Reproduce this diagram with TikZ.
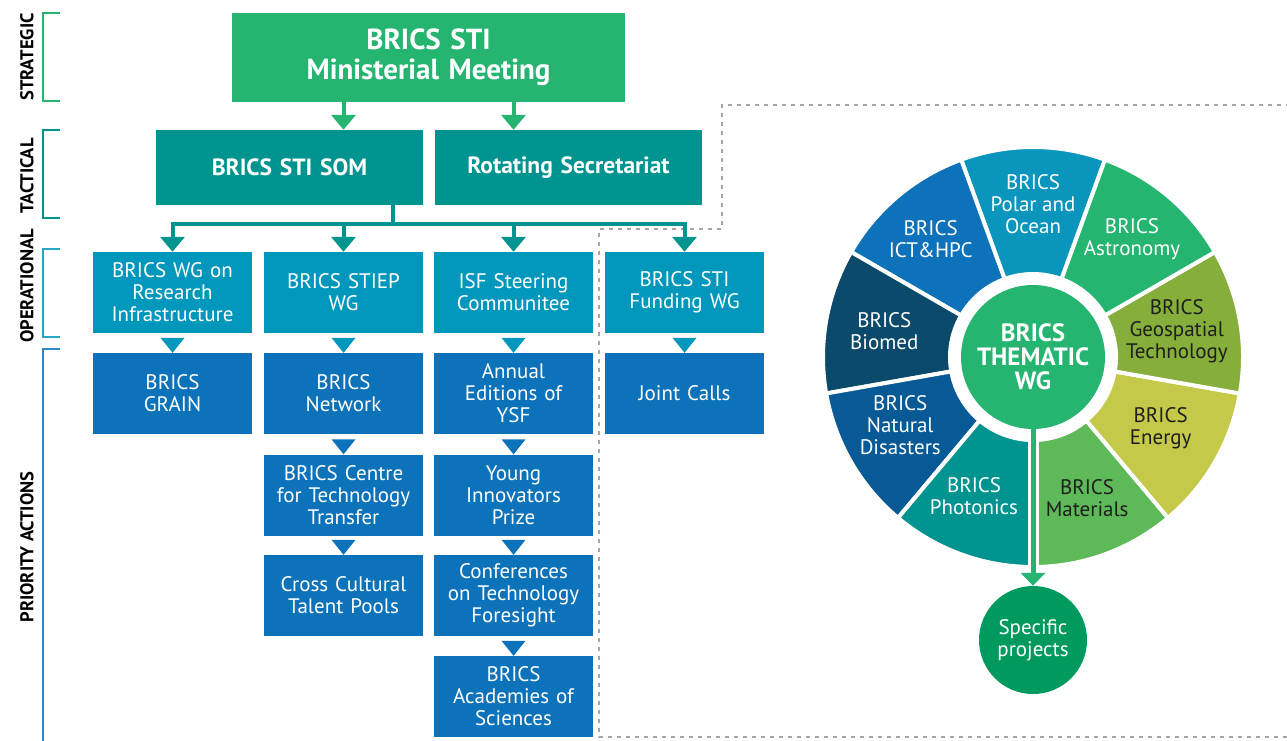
\documentclass[tikz,border=0pt]{standalone}
\usepackage[RGB]{xcolor}
\usepackage{fontspec}
\setmainfont{PT Sans}
\usetikzlibrary{arrows.meta}
\definecolor{topgreen}{RGB}{37,181,112}
\definecolor{tacteal}{RGB}{0,148,144}
\definecolor{opblue}{RGB}{0,151,189}
\definecolor{prblue}{RGB}{12,115,186}
\definecolor{matgreen}{RGB}{94,185,88}
\definecolor{energy}{RGB}{196,201,74}
\definecolor{geo}{RGB}{134,174,58}
\definecolor{polar}{RGB}{10,149,188}
\definecolor{ict}{RGB}{14,114,186}
\definecolor{biomed}{RGB}{11,74,107}
\definecolor{natural}{RGB}{8,90,150}
\definecolor{spgreen}{RGB}{0,154,94}
\definecolor{dotgray}{RGB}{165,165,165}
\definecolor{darktext}{RGB}{30,30,30}
\tikzset{
  box/.style={rectangle, inner sep=0pt, minimum width=159pt, minimum height=81pt,
    text width=157pt, align=center, text=white, font=\fontsize{21}{22}\selectfont},
  opbox/.style={box, fill=opblue},
  prbox/.style={box, fill=prblue},
  tacbox/.style={box, fill=tacteal, minimum width=267pt, minimum height=75pt,
    text width=260pt, font=\bfseries\fontsize{23.5}{26}\selectfont},
  level/.style={rotate=90, font=\bfseries\fontsize{18.5}{18.5}\selectfont},
  seglbl/.style={align=center, text=white, font=\fontsize{21}{22}\selectfont},
  tealline/.style={draw=tacteal, line width=4pt},
  tealarrow/.style={tealline, -{Triangle[width=24pt,length=15pt]}},
  greenarrow/.style={draw=topgreen, line width=4pt, -{Triangle[width=24pt,length=15pt]}}
}
\newcommand{\pointer}[2]{\fill[#2] (#1.north) -- ++(-12,-15) -- ++(24,0) -- cycle;}
\newcommand{\levelbracket}[3]{\draw[#3, line width=2pt] (60,#1) -- (43,#1) -- (43,#2) -- (60,#2);}
\begin{document}
\begin{tikzpicture}[x=1pt, y=-1pt]
\useasboundingbox (0,0) rectangle (1287,740);
% levels
\levelbracket{13}{101}{topgreen}
\levelbracket{130}{218}{tacteal}
\levelbracket{249}{337}{opblue!85}
\draw[prblue!85, line width=2pt] (60,349) -- (43,349) -- (43,742);
\node[level] (strategic) at (27,57) {STRATEGIC};
\node[level] (tactical) at (27,176) {TACTICAL};
\node[level] (operational) at (27,286) {OPERATIONAL};
\node[level] (priority) at (27,547) {PRIORITY ACTIONS};
% dotted frame
\draw[dotgray, line width=2pt, dash pattern=on 4pt off 5pt]
  (1290,105) -- (722,105) -- (722,229) -- (599,229) -- (599,737) -- (1290,737);
% strategic and tactical
\node[box, fill=topgreen, minimum width=393pt, minimum height=89pt, text width=385pt,
  font=\bfseries\fontsize{29}{30}\selectfont] (mm) at (428.5,57.5) {BRICS STI\\Ministerial Meeting};
\node[tacbox] (som) at (289.5,167.5) {BRICS STI SOM};
\node[tacbox] (rot) at (568.5,167.5) {Rotating Secretariat};
% operational
\node[opbox] (wgri) at (172.5,292.5) {BRICS WG on\\Research\\Infrastructure};
\node[opbox] (stiep) at (343.5,292.5) {BRICS STIEP\\WG};
\node[opbox] (isf) at (513.5,292.5) {ISF Steering\\Communitee};
\node[opbox] (funding) at (684.5,292.5) {BRICS STI\\Funding WG};
% priority actions
\node[prbox] (grain) at (172.5,393.5) {BRICS\\GRAIN};
\node[prbox] (network) at (343.5,393.5) {BRICS\\Network};
\node[prbox] (cttc) at (343.5,495) {BRICS Centre\\for Technology\\Transfer};
\node[prbox] (ccpool) at (343.5,595.5) {Cross Cultural\\Talent Pools};
\node[prbox] (ysf) at (513.5,393.5) {Annual\\Editions of\\YSF};
\node[prbox] (yip) at (513.5,495) {Young\\Innovators\\Prize};
\node[prbox] (ctf) at (513.5,595.5) {Conferences\\on Technology\\Foresight};
\node[prbox] (acad) at (513.5,696.5) {BRICS\\Academies of\\Sciences};
\node[prbox] (jcalls) at (684.5,393.5) {Joint Calls};
% connectors
\draw[greenarrow] (stiep |- mm.south) -- (stiep |- som.north);
\draw[greenarrow] (isf |- mm.south) -- (isf |- rot.north);
\coordinate (split) at (393,224);
\draw[tealline] (som.south -| split) -- (split);
\draw[tealline, line cap=rect] (wgri |- split) -- (funding |- split);
\foreach \n in {wgri,stiep,isf,funding}{
  \draw[tealarrow] (\n |- split) -- (\n.north);
}
\pointer{grain}{opblue}
\pointer{network}{opblue}
\pointer{ysf}{opblue}
\pointer{jcalls}{opblue}
\pointer{cttc}{prblue}
\pointer{ccpool}{prblue}
\pointer{yip}{prblue}
\pointer{ctf}{prblue}
\pointer{acad}{prblue}
% thematic wheel
\begin{scope}[shift={(1033,357)}, y=1pt]
\foreach \a/\c in {270/matgreen, 310/energy, 350/geo, 30/topgreen, 70/polar,
  110/ict, 150/biomed, 190/natural, 230/tacteal}{
  \filldraw[fill=\c, draw=white, line width=4pt]
    (\a:83) arc[start angle=\a, end angle=\a+40, radius=83]
    -- (\a+40:210) arc[start angle=\a+40, end angle=\a, radius=210] -- cycle;
}
\fill[white] (-5.5,-70) rectangle (5.5,-215);
\node[seglbl] (polarlbl) at (90:153) {BRICS\\Polar and\\Ocean};
\node[seglbl] (astrolbl) at (50:154) {BRICS\\Astronomy};
\node[seglbl, text=darktext] (geolbl) at (10:146) {BRICS\\Geospatial\\Technology};
\node[seglbl, text=darktext] (energylbl) at (-29:146) {BRICS\\Energy};
\node[seglbl, text=darktext] (matlbl) at (-69:151) {BRICS\\Materials};
\node[seglbl] (photolbl) at (247:151) {BRICS\\Photonics};
\node[seglbl] (natlbl) at (207:149) {BRICS\\Natural\\Disasters};
\node[seglbl] (biolbl) at (170:151) {BRICS\\Biomed};
\node[seglbl] (ictlbl) at (131:156) {BRICS\\ICT\&HPC};
\end{scope}
\node[circle, fill=topgreen, minimum size=144pt, inner sep=0pt, align=center, text=white,
  font=\bfseries\fontsize{25}{24}\selectfont] (thematic) at (1033,357) {BRICS\\THEMATIC\\WG};
\node[circle, fill=spgreen, minimum size=108pt, inner sep=0pt, align=center, text=white,
  font=\fontsize{21}{22}\selectfont] (spec) at (1033,640) {Specific\\projects};
\draw[draw=topgreen, line width=5pt, -{Triangle[width=24pt,length=13pt]}] (thematic.south) -- (spec.north);
\end{tikzpicture}
\end{document}
